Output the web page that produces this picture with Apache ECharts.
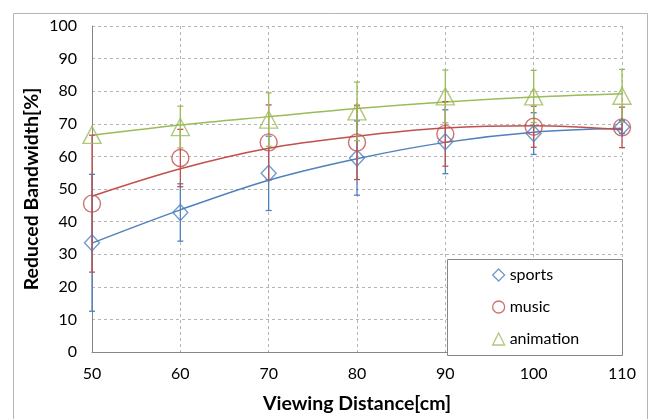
<!DOCTYPE html>
<html>
<head>
<meta charset="utf-8">
<script src="https://cdn.jsdelivr.net/npm/echarts@6/dist/echarts.min.js"></script>
<style>
html,body{margin:0;padding:0;background:#fff;}
#chart{width:648px;height:419px;}
</style>
</head>
<body>
<div id="chart"></div>
<script>
// ---- data ----
const distances = [50, 60, 70, 80, 90, 100, 110];
const seriesNames = ['sports', 'music', 'animation'];

const sports    = [33.5, 42.8, 54.8, 59.5, 64.5, 67.0, 69.0];
const sportsErr = [21.0, 8.8, 11.4, 11.4, 9.8, 6.4, 2.0];
const music     = [45.5, 59.5, 64.3, 64.3, 66.9, 69.1, 68.9];
const musicErr  = [21.0, 8.8, 11.5, 11.4, 9.9, 6.3, 6.2];
const animation = [66.6, 69.0, 71.3, 73.8, 78.4, 78.4, 78.6];
const animErr   = [0, 6.4, 8.2, 9.0, 8.1, 8.0, 8.1];

// trend lines
const sportsTrend = [33.4, 43.6, 52.7, 59.3, 64.3, 67.4, 68.6];
const musicTrend  = [47.8, 56.2, 62.5, 66.2, 68.7, 69.4, 68.2];
const animTrend   = [66.5, 69.6, 72.2, 74.7, 76.7, 78.2, 79.2];

const yTicks = [0, 10, 20, 30, 40, 50, 60, 70, 80, 90, 100];

// ---- styling ----
const colors = ['#4F81BD', '#C0504D', '#9BBB59'];
const symbols = ['diamond', 'circle', 'triangle'];
const symbolSizes = [[15, 16], 17, [18, 17]];
const FONT = 'Lato, "Open Sans", sans-serif';

const values = [sports, music, animation];
const errs = [sportsErr, musicErr, animErr];
const trends = [sportsTrend, musicTrend, animTrend];

function pairs(arr) { return distances.map((x, i) => [x, arr[i]]); }
function triples(arr, e) { return distances.map((x, i) => [x, arr[i], e[i]]); }

const series = [];
seriesNames.forEach((name, k) => {
  series.push({
    name: name + ' trend',
    type: 'line',
    data: pairs(trends[k]),
    smooth: 0.35,
    showSymbol: false,
    symbol: 'none',
    lineStyle: { color: colors[k], width: 1.5 },
    silent: true,
    z: 2
  });
  series.push({
    name: name + ' err',
    type: 'custom',
    data: triples(values[k], errs[k]),
    z: 3,
    silent: true,
    renderItem: function (params, api) {
      const x = api.value(0), y = api.value(1), e = api.value(2);
      if (!e) return { type: 'group', children: [] };
      const lo = api.coord([x, y - e]);
      const hi = api.coord([x, y + e]);
      const st = { stroke: colors[k], lineWidth: 1.3 };
      const cw = 3;
      return {
        type: 'group',
        children: [
          { type: 'line', shape: { x1: lo[0], y1: lo[1], x2: hi[0], y2: hi[1] }, style: st },
          { type: 'line', shape: { x1: lo[0] - cw, y1: lo[1], x2: lo[0] + cw, y2: lo[1] }, style: st },
          { type: 'line', shape: { x1: hi[0] - cw, y1: hi[1], x2: hi[0] + cw, y2: hi[1] }, style: st }
        ]
      };
    }
  });
  series.push({
    name: name,
    type: 'scatter',
    data: pairs(values[k]),
    symbol: symbols[k],
    symbolSize: symbolSizes[k],
    itemStyle: { color: 'rgba(255,255,255,0)', borderColor: colors[k], borderWidth: 1.4 },
    z: 4
  });
});

const chart = echarts.init(document.getElementById('chart'), null, { renderer: 'canvas' });
chart.setOption({
  animation: false,
  backgroundColor: '#fff',
  textStyle: { fontFamily: FONT },
  grid: { left: 92, right: 26, top: 26, bottom: 64 },
  graphic: [
    { type: 'rect', left: 11, top: 11, shape: { x: 0, y: 0, width: 634, height: 430 },
      style: { fill: 'none', stroke: '#b5b5b5', lineWidth: 1 }, z: -10, silent: true },
    { type: 'rect', left: 447, top: 259, shape: { x: 0, y: 0, width: 175, height: 96 },
      style: { fill: '#fff', stroke: '#868686', lineWidth: 1 }, z: 50, silent: true }
  ],
  legend: {
    data: seriesNames.map((n, k) => ({
      name: n, icon: symbols[k],
      itemStyle: { color: 'rgba(255,255,255,0)', borderColor: colors[k], borderWidth: 1.3 }
    })),
    orient: 'vertical',
    left: 487,
    top: 261,
    itemWidth: 12,
    itemHeight: 12,
    itemGap: 14,
    z: 60,
    textStyle: { fontFamily: FONT, fontSize: 16, color: '#000', lineHeight: 18 }
  },
  xAxis: {
    type: 'value',
    min: 50, max: 110, interval: 10,
    name: 'Viewing Distance[cm]',
    nameLocation: 'middle',
    nameGap: 42,
    nameMoveOverlap: false,
    nameTextStyle: { fontFamily: FONT, fontSize: 19.5, fontWeight: 'bold', color: '#000' },
    axisLine: { show: true, lineStyle: { color: '#868686', width: 1 } },
    axisTick: { show: false },
    axisLabel: { margin: 14, fontFamily: FONT, fontSize: 16, color: '#000' },
    splitLine: { show: true, lineStyle: { color: '#b5b5b5', type: [3, 3], width: 1 } }
  },
  yAxis: {
    type: 'value',
    min: 0, max: 100, interval: 10,
    name: 'Reduced Bandwidth[%]',
    nameLocation: 'middle',
    nameRotate: 90,
    nameGap: 50,
    nameMoveOverlap: false,
    nameTextStyle: { fontFamily: FONT, fontSize: 19.5, fontWeight: 'bold', color: '#000' },
    axisLine: { show: true, lineStyle: { color: '#868686', width: 1 } },
    axisTick: { show: false },
    axisLabel: { margin: 15, fontFamily: FONT, fontSize: 16, color: '#000',
      formatter: v => (yTicks.indexOf(v) >= 0 ? String(v) : '') },
    splitLine: { show: true, lineStyle: { color: '#b5b5b5', type: [3, 3], width: 1 } }
  },
  series: series
});
</script>
</body>
</html>
